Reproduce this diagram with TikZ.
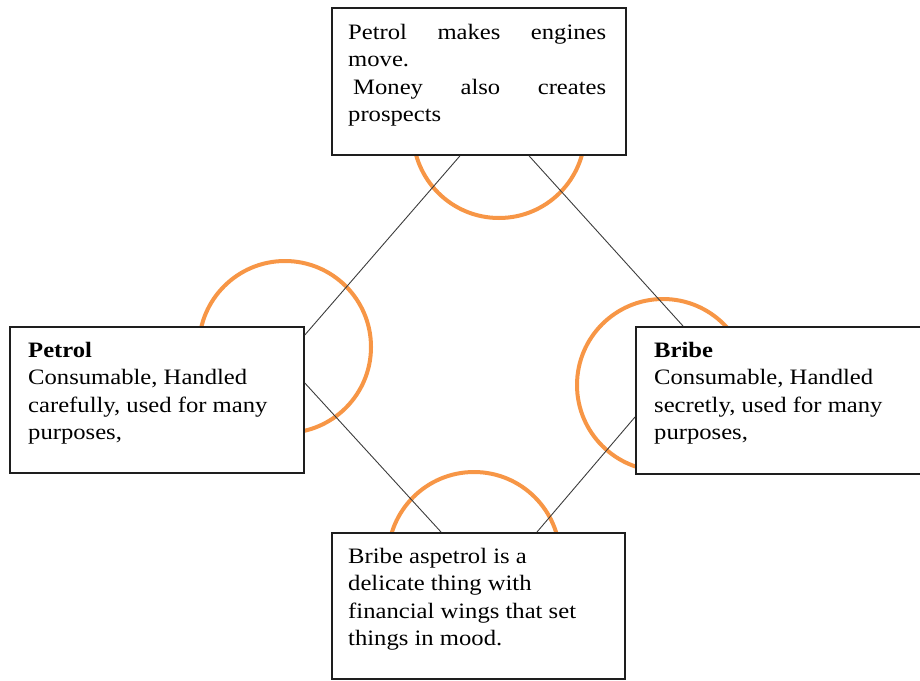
\documentclass[tikz,border=0pt]{standalone}
\usepackage{fontspec}
\setmainfont{Liberation Serif}[FakeStretch=1.12]
\usetikzlibrary{calc}
\definecolor{ringorange}{RGB}{247,150,70}
\definecolor{wiregray}{RGB}{60,60,60}
\definecolor{cardline}{RGB}{30,30,30}
% text block whose baseline is the baseline of its first line
\newcommand\cardtext[2]{\parbox[t]{#1}{\fontsize{22}{27.5}\selectfont\raggedright #2}}
\begin{document}
\begin{tikzpicture}[x=1pt,y=-1pt,
  ring/.style={circle,draw=ringorange,line width=4pt,minimum size=172pt,inner sep=0pt},
  card/.style={draw=cardline,line width=1.8pt,fill=white,inner sep=0pt,anchor=north west},
  cardtxt/.style={anchor=base west,inner sep=0pt},
  wire/.style={draw=wiregray,line width=0.9pt}]
\clip (0,0) rectangle (920,680);

% orange rings behind the cards
\node[ring] (rtop) at (499,132) {};
\node[ring] (rleft) at (285,347) {};
\node[ring] (rright) at (663,385) {};
\node[ring] (rbottom) at (474,558) {};

% cards
\node[card,minimum width=294pt,minimum height=147pt] (top) at (331,7) {};
\node[card,minimum width=294pt,minimum height=146pt] (left) at (9,326) {};
\node[card,minimum width=300pt,minimum height=147pt] (right) at (635,326) {};
\node[card,minimum width=293pt,minimum height=146pt] (bottom) at (331,532) {};

% card texts
\node[cardtxt] (ttop) at (348,39) {\cardtext{258pt}{%
  \makebox[\linewidth][s]{Petrol makes engines}\\
  move.\\
  \makebox[\linewidth][s]{\hspace{5pt}Money also creates}\\
  prospects}};
\node[cardtxt] (tleft) at (28,357) {\cardtext{270pt}{%
  \textbf{Petrol}\\
  Consumable, Handled\\
  carefully, used for many\\
  purposes,}};
\node[cardtxt] (tright) at (654,357) {\cardtext{262pt}{%
  \textbf{Bribe}\\
  Consumable, Handled\\
  secretly, used for many\\
  purposes,}};
\node[cardtxt] (tbottom) at (348,563) {\cardtext{270pt}{%
  Bribe aspetrol is a\\
  delicate thing with\\
  financial wings that set\\
  things in mood.}};

% connectors between the cards
\draw[wire] ($(top.south west)+(129,0)$) -- ($(left.north east)+(0,9)$);
\draw[wire] ($(top.south west)+(198,0)$) -- ($(right.north west)+(48,0)$);
\draw[wire] ($(left.north east)+(0,57)$) -- ($(bottom.north west)+(110,0)$);
\draw[wire] ($(right.north west)+(0,91)$) -- ($(bottom.north west)+(206,0)$);
\end{tikzpicture}
\end{document}
